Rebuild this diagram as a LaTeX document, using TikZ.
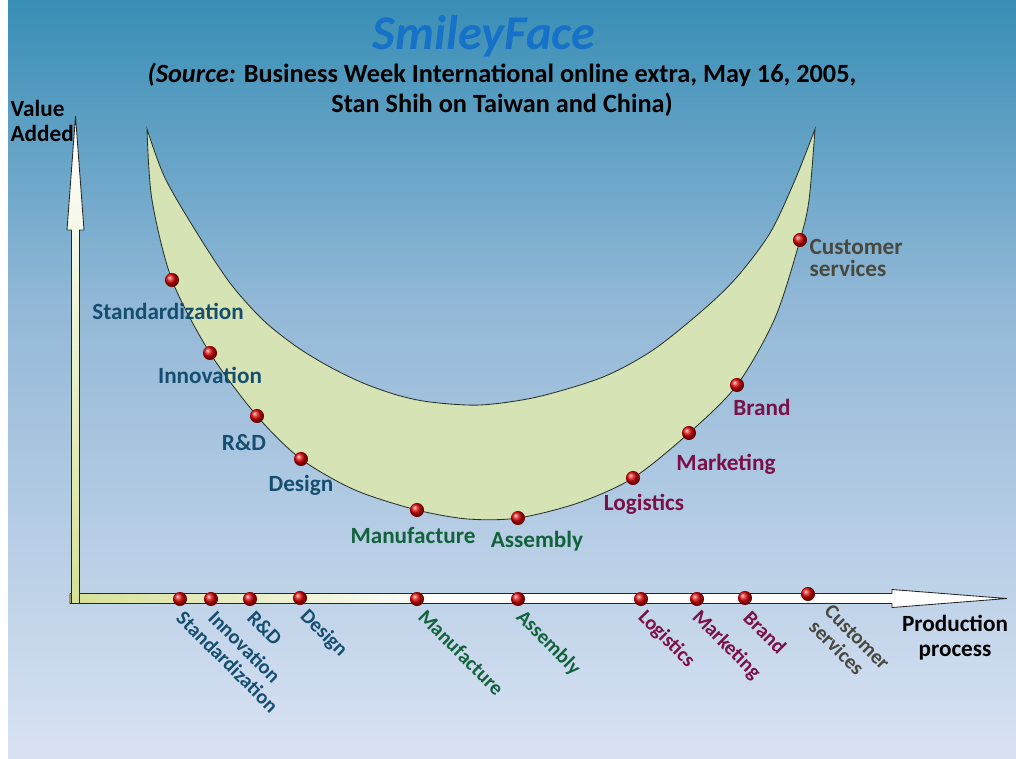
\documentclass[tikz,border=0pt]{standalone}
\usepackage{fontspec}
\setmainfont{Carlito}
\usepackage{tikz}
\usetikzlibrary{positioning,calc}
\definecolor{bgtop}{RGB}{56,142,181}
\definecolor{bgmid}{RGB}{146,184,215}
\definecolor{bgbot}{RGB}{217,226,243}
\definecolor{titleblue}{RGB}{22,114,200}
\definecolor{moonfill}{RGB}{214,228,181}
\definecolor{moonline}{RGB}{40,50,40}
\definecolor{axisyel}{RGB}{214,224,150}
\definecolor{stageblue}{RGB}{22,78,112}
\definecolor{stagegreen}{RGB}{18,98,60}
\definecolor{stagered}{RGB}{122,16,72}
\definecolor{stagegray}{RGB}{72,72,62}
\pgfdeclareverticalshading{slidebg}{100bp}{color(0bp)=(bgbot); color(25bp)=(bgbot); color(55bp)=(bgmid); color(75bp)=(bgtop); color(100bp)=(bgtop)}
\pgfdeclarehorizontalshading{axisfade}{100bp}{color(0bp)=(axisyel); color(25bp)=(axisyel); color(45bp)=(white); color(100bp)=(white)}
\newcommand{\titlesize}{\fontsize{34.5}{40}\selectfont}
\newcommand{\sourcesize}{\fontsize{18.7}{21.3}\selectfont}
\newcommand{\stagesize}{\fontsize{16.5}{17.7}\selectfont}
\newcommand{\ticksize}{\fontsize{14.6}{15.6}\selectfont}
\tikzset{
  bead/.style={circle,inner sep=0pt,minimum size=10pt,ball color=red!85!black},
  stagelbl/.style={font=\stagesize\bfseries,inner sep=1pt},
  ticklbl/.style={font=\ticksize\bfseries,inner sep=1pt,rotate=-45,anchor=west},
  axisline/.style={draw=black!85,line width=0.6pt},
}

\begin{document}
\begin{tikzpicture}[x=0.025cm,y=-0.025cm]
  \useasboundingbox (0,0) rectangle (1016,758);
  % backdrop
  \fill[white] (0,0) rectangle (1016,758);
  \shade[shading=slidebg] (8,0) rectangle (1016,758);
  % heading
  \node[font=\titlesize\bfseries\itshape,text=titleblue] (title) at (484,36) {SmileyFace};
  \node[font=\sourcesize\bfseries,align=center] (source) at (502,90)
    {\textit{(Source:} Business Week International online extra, May 16, 2005,\\ Stan Shih on Taiwan and China)};
  % axes
  \shadedraw[shading=axisfade,axisline] (70,593.5) -- (892,593.5) -- (892,589.5) -- (1007,598.5)
    -- (892,607.5) -- (892,603.5) -- (70,603.5) -- cycle;
  \shadedraw[top color=white,bottom color=axisyel,axisline] (71.5,603.5) -- (71.5,230) -- (67,230)
    -- (75.5,116) -- (84,230) -- (79.5,230) -- (79.5,603.5) -- cycle;
  \node[font=\stagesize\bfseries,align=left,anchor=west,inner sep=1pt] (vaxis) at (9,121) {Value\\Added};
  \node[font=\stagesize\bfseries,align=center] (haxis) at (955,638) {Production\\process};
  % the smile
  \filldraw[fill=moonfill,draw=moonline,line width=0.6pt]
    plot[smooth] coordinates {(147,129) (152,200) (172,280) (210,353) (257,416) (301,459) (355,490)
      (417,510) (468,519) (518,518) (578,503) (633,478) (689,433) (737,385) (775,318) (800,240) (809,200) (815,129)}
    -- plot[smooth] coordinates {(815,129) (795,180) (770,233) (737,277) (703,310) (653,350) (603,377)
      (537,397) (480,405) (430,402) (397,395) (363,383) (330,367) (297,347) (263,320) (230,283)
      (197,233) (165,178) (147,129)} -- cycle;
  % stages on the smile
  \node[bead] (c1) at (172,280) {};
  \node[bead] (c2) at (210,353) {};
  \node[bead] (c3) at (257,416) {};
  \node[bead] (c4) at (301,459) {};
  \node[bead] (c5) at (417,510) {};
  \node[bead] (c6) at (518,518) {};
  \node[bead] (c7) at (633,478) {};
  \node[bead] (c8) at (689,433) {};
  \node[bead] (c9) at (737,385) {};
  \node[bead] (c10) at (800,240) {};
  \node[stagelbl,text=stageblue] (l1) at (168,311) {Standardization};
  \node[stagelbl,text=stageblue] (l2) at (210,375) {Innovation};
  \node[stagelbl,text=stageblue] (l3) at (244,443) {R\&D};
  \node[stagelbl,text=stageblue] (l4) at (301,485) {Design};
  \node[stagelbl,text=stagegreen] (l5) at (413,536) {Manufacture};
  \node[stagelbl,text=stagegreen] (l6) at (537,541) {Assembly};
  \node[stagelbl,text=stagered] (l7) at (644,504) {Logistics};
  \node[stagelbl,text=stagered] (l8) at (726,464) {Marketing};
  \node[stagelbl,text=stagered] (l9) at (762,407) {Brand};
  \node[stagelbl,text=stagegray,align=left,anchor=west,font=\fontsize{16.5}{15.6}\selectfont\bfseries]
    (l10) at (808,258) {Customer\\services};
  % stages on the axis
  \node[bead] (a1) at (180,599) {};
  \node[bead] (a2) at (211,599) {};
  \node[bead] (a3) at (250,599) {};
  \node[bead] (a4) at (300,598) {};
  \node[bead] (a5) at (417,599) {};
  \node[bead] (a6) at (518,599) {};
  \node[bead] (a7) at (641,599) {};
  \node[bead] (a8) at (697,599) {};
  \node[bead] (a9) at (745,598) {};
  \node[bead] (a10) at (808,594) {};
  \node[ticklbl,text=stageblue] (t1) at (179,613) {Standardization};
  \node[ticklbl,text=stageblue] (t2) at (211,613) {Innovation};
  \node[ticklbl,text=stageblue] (t3) at (250,613) {R\&D};
  \node[ticklbl,text=stageblue] (t4) at (302,612) {Design};
  \node[ticklbl,text=stagegreen] (t5) at (421,612) {Manufacture};
  \node[ticklbl,text=stagegreen] (t6) at (518,613) {Assembly};
  \node[ticklbl,text=stagered] (t7) at (640,613) {Logistics};
  \node[ticklbl,text=stagered] (t8) at (694,613) {Marketing};
  \node[ticklbl,text=stagered] (t9) at (746,613) {Brand};
  \node[ticklbl,text=stagegray,align=left,anchor=north west] (t10) at (833,601) {Customer\\services};
\end{tikzpicture}
\end{document}
